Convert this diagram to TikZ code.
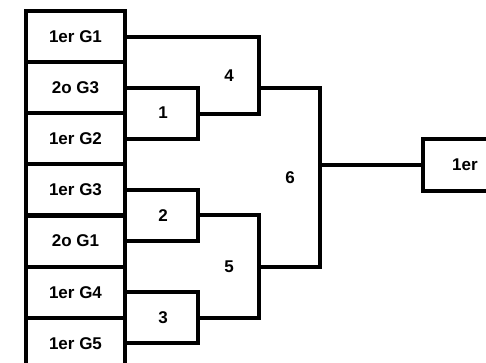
\documentclass[tikz,border=0pt]{standalone}
\usepackage{fontspec}
\setmainfont{Liberation Sans}
\begin{document}
\begin{tikzpicture}[x=1pt,y=-1pt,
  line width=4pt,
  team/.style={draw, minimum width=99pt, minimum height=51pt, inner sep=0pt, font=\fontsize{17}{19}\selectfont\bfseries},
  lab/.style={inner sep=0pt, font=\fontsize{17}{19}\selectfont\bfseries}]
\useasboundingbox (0,0) rectangle (486,362);
\clip (0,0) rectangle (486,362);
\node[team] (b1) at (75.5,36.5) {1er G1};
\node[team] (b2) at (75.5,87.6) {2o G3};
\node[team] (b3) at (75.5,138.8) {1er G2};
\node[team] (b4) at (75.5,189.9) {1er G3};
\node[team] (b5) at (75.5,241.1) {2o G1};
\node[team] (b6) at (75.5,292.2) {1er G4};
\node[team] (b7) at (75.5,343.4) {1er G5};
\node[team, minimum width=84pt, minimum height=52pt] (fin) at (465,164.5) {1er};
\coordinate (m1) at (198,113.5);
\coordinate (m2) at (198,215);
\coordinate (m3) at (198,318);
\coordinate (c4) at (259,113.5);
\coordinate (m4) at (259,88);
\coordinate (c5t) at (259,215);
\coordinate (c5b) at (259,318);
\coordinate (m5) at (259,267);
\coordinate (c6t) at (320,88);
\coordinate (c6b) at (320,267);
\coordinate (m6) at (320,164.5);
\draw (b2.east) -| (m1) |- (b3.east);
\draw (b4.east) -| (m2) |- (b5.east);
\draw (b6.east) -| (m3) |- (b7.east);
\draw (b1.east) -| (c4) -- (m1);
\draw (m2) -- (c5t) -- (c5b) -- (m3);
\draw (m4) -- (c6t) -- (c6b) -- (m5);
\draw (m6) -- (fin.west);
\node[lab] (l1) at (163,113) {1};
\node[lab] (l2) at (163,216) {2};
\node[lab] (l3) at (163,318) {3};
\node[lab] (l4) at (229,76) {4};
\node[lab] (l5) at (229,267) {5};
\node[lab] (l6) at (290,178) {6};
\end{tikzpicture}
\end{document}
